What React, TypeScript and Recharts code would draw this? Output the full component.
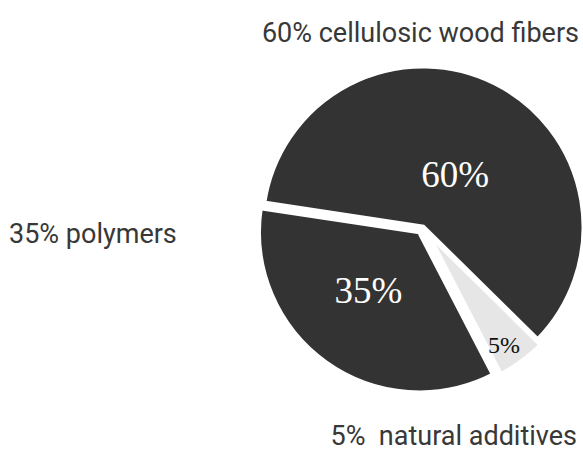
import { PieChart, Pie, Cell, Sector } from "recharts";

const CATEGORIES = ["cellulosic wood fibers", "polymers", "natural additives"];
const SHARES = [60, 35, 5];
const OUTER_LABELS = [
  "60% cellulosic wood fibers",
  "35% polymers",
  "5%  natural additives",
];

const SLICE_COLORS = ["#333333", "#333333", "#e6e6e6"];
const INNER_TEXT = ["#ffffff", "#ffffff", "#111111"];
const INNER_SIZE = [37, 37, 24];
// how far each slice is pulled out of the pie (px)
const EXPLODE = [0, 6, 6];
// inner label placement: fraction of radius, angle shift from mid angle
const LABEL_R = [0.38, 0.52, 0.89];
const LABEL_SHIFT = [-5, -5, -2];

const RAD = Math.PI / 180;
const SERIF = "Liberation Serif, Times New Roman, DejaVu Serif, serif";

const data = CATEGORIES.map((name, i) => ({ name, value: SHARES[i] }));

function ExplodedSlice(props: any, idx?: number) {
  const i = typeof idx === "number" ? idx : props.index ?? 0;
  const d = EXPLODE[i] || 0;
  const dx = d * Math.cos(props.midAngle * RAD);
  const dy = -d * Math.sin(props.midAngle * RAD);
  return <Sector {...props} cx={props.cx + dx} cy={props.cy + dy} />;
}

function InnerLabel(props: any) {
  const { cx, cy, midAngle, outerRadius, index, value } = props;
  const a = (midAngle + LABEL_SHIFT[index]) * RAD;
  const r = outerRadius * LABEL_R[index];
  return (
    <text
      key={`lbl-${index}`}
      x={cx + r * Math.cos(a)}
      y={cy - r * Math.sin(a)}
      textAnchor="middle"
      dominantBaseline="central"
      fill={INNER_TEXT[index]}
      stroke="none"
      fontFamily={SERIF}
      fontSize={INNER_SIZE[index]}
      style={{ fontFamily: SERIF, fontSize: INNER_SIZE[index] }}
    >
      {value}%
    </text>
  );
}

export default function App() {
  const textStyle = {
    fontFamily: "Roboto, 'Noto Sans', sans-serif",
    fontSize: 27,
    fill: "#383838",
    whiteSpace: "pre" as const,
  };
  return (
    <div style={{ position: "relative", width: 583, height: 452 }}>
      <style>{`body{margin:0;background:#fff}`}</style>
      <PieChart width={583} height={452} margin={{ top: 0, right: 0, bottom: 0, left: 0 }}>
        <Pie
          data={data}
          dataKey="value"
          nameKey="name"
          cx={423}
          cy={227}
          outerRadius={161}
          startAngle={-44.6}
          endAngle={315.4}
          stroke="#ffffff"
          strokeWidth={5}
          shape={ExplodedSlice}
          label={InnerLabel}
          labelLine={false}
          isAnimationActive={false}
        >
          {data.map((_, i) => (
            <Cell key={i} fill={SLICE_COLORS[i]} />
          ))}
        </Pie>
      </PieChart>
      <svg
        width={583}
        height={452}
        style={{ position: "absolute", left: 0, top: 0, pointerEvents: "none" }}
      >
        <text x={579} y={42} textAnchor="end" style={textStyle}>
          {OUTER_LABELS[0]}
        </text>
        <text x={9} y={243} textAnchor="start" style={textStyle}>
          {OUTER_LABELS[1]}
        </text>
        <text x={577} y={445} textAnchor="end" style={textStyle}>
          {OUTER_LABELS[2]}
        </text>
      </svg>
    </div>
  );
}
